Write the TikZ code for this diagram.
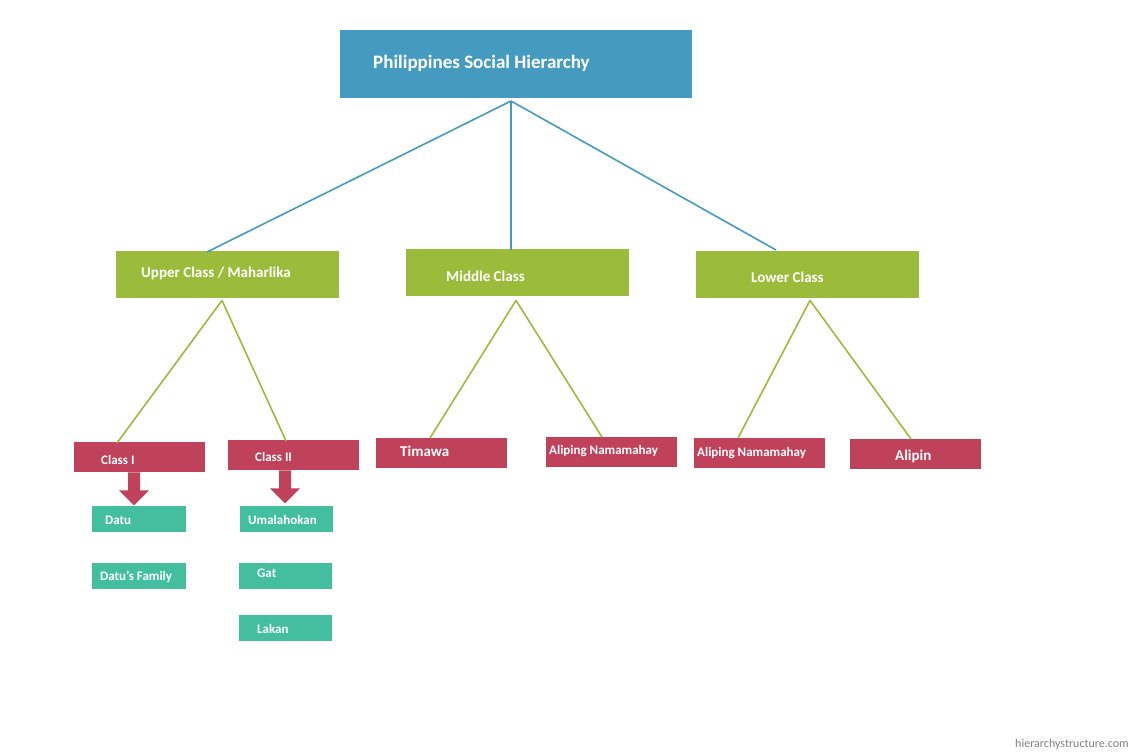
\documentclass[tikz,border=0pt]{standalone}
\usepackage{fontspec}
\setmainfont{Carlito}
\usetikzlibrary{calc}
\definecolor{tblue}{HTML}{449BBF}
\definecolor{tgreen}{HTML}{9BBB3B}
\definecolor{tred}{HTML}{C0415A}
\definecolor{tteal}{HTML}{43BF9F}
\tikzset{
  bx/.style={draw=none,inner sep=0pt,anchor=north west},
  lbl/.style={anchor=west,inner sep=0pt,text=white,font=\bfseries\fontsize{13}{15}\selectfont},
  bl/.style={tblue,line width=1.6pt},
  gl/.style={tgreen,line width=1.6pt},
}
\newcommand{\bxn}[7]{% name color x1 y1 x2 y2
  \node[bx,fill=#2,minimum width=#5-#3,minimum height=#6-#4] (#1) at (#3,#4) {};}
\begin{document}
\begin{tikzpicture}[x=1pt,y=-1pt]
\useasboundingbox (0,0) rectangle (1131,753);
\fill[white] (0,0) rectangle (1131,753);
\bxn{title}{tblue}{340}{30}{692}{98}{}
\node[lbl,font=\bfseries\fontsize{19}{22}\selectfont] (ttitle) at (373,63) {Philippines Social Hierarchy};
\bxn{up}{tgreen}{116}{251}{339}{298}{}
\bxn{mid}{tgreen}{406}{249}{629}{296}{}
\bxn{low}{tgreen}{696}{251}{919}{298}{}
\node[lbl,font=\bfseries\fontsize{15}{18}\selectfont] (tup) at (141,273) {Upper Class / Maharlika};
\node[lbl,font=\bfseries\fontsize{15}{18}\selectfont] (tmid) at (446,276) {Middle Class};
\node[lbl,font=\bfseries\fontsize{15}{18}\selectfont] (tlow) at (751,277) {Lower Class};
\coordinate (tb) at ($(title.north west)+(171,71)$);
\draw[bl] (tb) -- ($(up.north west)+(91,1)$);
\draw[bl] (tb) -- ($(mid.north west)+(105,1)$);
\draw[bl] (tb) -- ($(low.north west)+(80,-1)$);
\bxn{c1}{tred}{74}{442}{205}{472}{}
\bxn{c2}{tred}{228}{440}{359}{470}{}
\bxn{tim}{tred}{376}{438}{507}{468}{}
\bxn{al1}{tred}{546}{437}{677}{467}{}
\bxn{al2}{tred}{694}{438}{825}{468}{}
\bxn{alp}{tred}{850}{439}{981}{469}{}
\node[lbl] (tc1) at (101,460) {Class I};
\node[lbl] (tc2) at (255,457) {Class II};
\node[lbl,font=\bfseries\fontsize{15}{18}\selectfont] (ttim) at (400,451) {Timawa};
\node[lbl] (tal1) at (549,451) {Aliping Namamahay};
\node[lbl] (tal2) at (697,453) {Aliping Namamahay};
\node[lbl,font=\bfseries\fontsize{15}{18}\selectfont] (talp) at (895,456) {Alipin};
\coordinate (ub) at ($(up.south west)+(106,2)$);
\coordinate (mb) at ($(mid.south west)+(110,4)$);
\coordinate (lb) at ($(low.south west)+(114,2)$);
\draw[gl] (ub) -- ($(c1.north west)+(43,1)$);
\draw[gl] (ub) -- ($(c2.north west)+(58,1)$);
\draw[gl] (mb) -- ($(tim.north west)+(54,0)$);
\draw[gl] (mb) -- ($(al1.north west)+(56,0)$);
\draw[gl] (lb) -- ($(al2.north west)+(44,0)$);
\draw[gl] (lb) -- ($(alp.north west)+(61,0)$);
\bxn{datu}{tteal}{92}{506}{186}{532}{}
\bxn{dfam}{tteal}{92}{563}{186}{589}{}
\bxn{uma}{tteal}{240}{506}{333}{532}{}
\bxn{gat}{tteal}{239}{563}{332}{589}{}
\bxn{lak}{tteal}{239}{615}{332}{641}{}
\node[lbl] (tdatu) at (105,520) {Datu};
\node[lbl] (tdfam) at (100,577) {Datu’s Family};
\node[lbl] (tuma) at (248,520) {Umalahokan};
\node[lbl] (tgat) at (257,573) {Gat};
\node[lbl] (tlak) at (257,629) {Lakan};
\foreach \s/\cx in {c1/134,c2/285}{
  \fill[tred] ($(\s.south west)!0!(\s.south west)+(\cx-74,0)$) coordinate (tmp);
}
\coordinate (a1) at ($(c1.south west)+(60,0)$);
\coordinate (a2) at ($(c2.south west)+(57,0)$);
\foreach \a in {a1,a2}{
  \fill[tred] ($(\a)+(-6,0)$) -- ($(\a)+(-6,18)$) -- ($(\a)+(-15,18)$) -- ($(\a)+(0,33)$) -- ($(\a)+(15,18)$) -- ($(\a)+(6,18)$) -- ($(\a)+(6,0)$) -- cycle;
}
\node[anchor=south east,inner sep=0pt,text=gray,font=\fontsize{12}{14}\selectfont] (foot) at (1129,750) {hierarchystructure.com};
\end{tikzpicture}
\end{document}
